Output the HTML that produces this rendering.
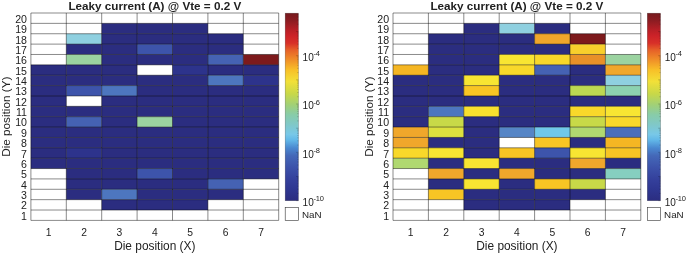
<!DOCTYPE html>
<html><head><meta charset="utf-8"><title>Leaky current</title>
<style>html,body{margin:0;padding:0;background:#fff}svg{display:block;will-change:transform}text{font-family:"Liberation Sans",Arial,sans-serif;fill:#222}</style>
</head><body>
<svg width="687" height="254" viewBox="0 0 687 254">
<defs><linearGradient id="cb" x1="0" y1="0" x2="0" y2="1"><stop offset="0" stop-color="#761a1e"/><stop offset="0.04" stop-color="#8c1c22"/><stop offset="0.09" stop-color="#b81f26"/><stop offset="0.12" stop-color="#cc2228"/><stop offset="0.16" stop-color="#d83028"/><stop offset="0.196" stop-color="#e66028"/><stop offset="0.25" stop-color="#f09028"/><stop offset="0.303" stop-color="#f8c028"/><stop offset="0.364" stop-color="#f2e038"/><stop offset="0.43" stop-color="#c8d848"/><stop offset="0.49" stop-color="#a0d078"/><stop offset="0.541" stop-color="#88cca8"/><stop offset="0.594" stop-color="#80c8c8"/><stop offset="0.646" stop-color="#78c8e8"/><stop offset="0.676" stop-color="#62b8e8"/><stop offset="0.719" stop-color="#4a88d0"/><stop offset="0.76" stop-color="#4468b8"/><stop offset="0.823" stop-color="#3c52aa"/><stop offset="0.886" stop-color="#34409c"/><stop offset="0.943" stop-color="#2e3690"/><stop offset="1" stop-color="#2b2d80"/></linearGradient></defs>
<rect width="687" height="254" fill="#fff"/>
<g transform="translate(0,0)">
<rect x="30.9" y="13.0" width="247.79999999999998" height="207.4" fill="#fff"/>
<rect x="101.70" y="23.37" width="35.40" height="10.37" fill="#2b2d80"/>
<rect x="137.10" y="23.37" width="35.40" height="10.37" fill="#2b2d80"/>
<rect x="172.50" y="23.37" width="35.40" height="10.37" fill="#2b2d80"/>
<rect x="66.30" y="33.74" width="35.40" height="10.37" fill="#8fd0e0"/>
<rect x="101.70" y="33.74" width="35.40" height="10.37" fill="#2b2d80"/>
<rect x="137.10" y="33.74" width="35.40" height="10.37" fill="#2b2d80"/>
<rect x="172.50" y="33.74" width="35.40" height="10.37" fill="#2b2d80"/>
<rect x="207.90" y="33.74" width="35.40" height="10.37" fill="#2b2d80"/>
<rect x="66.30" y="44.11" width="35.40" height="10.37" fill="#2b2d80"/>
<rect x="101.70" y="44.11" width="35.40" height="10.37" fill="#2b2d80"/>
<rect x="137.10" y="44.11" width="35.40" height="10.37" fill="#3d54ab"/>
<rect x="172.50" y="44.11" width="35.40" height="10.37" fill="#2b2d80"/>
<rect x="207.90" y="44.11" width="35.40" height="10.37" fill="#2b2d80"/>
<rect x="66.30" y="54.48" width="35.40" height="10.37" fill="#9bd3a0"/>
<rect x="101.70" y="54.48" width="35.40" height="10.37" fill="#2b2d80"/>
<rect x="137.10" y="54.48" width="35.40" height="10.37" fill="#2b2d80"/>
<rect x="172.50" y="54.48" width="35.40" height="10.37" fill="#2b2d80"/>
<rect x="207.90" y="54.48" width="35.40" height="10.37" fill="#4562b3"/>
<rect x="243.30" y="54.48" width="35.40" height="10.37" fill="#7d1a1c"/>
<rect x="30.90" y="64.85" width="35.40" height="10.37" fill="#2b2d80"/>
<rect x="66.30" y="64.85" width="35.40" height="10.37" fill="#2b2d80"/>
<rect x="101.70" y="64.85" width="35.40" height="10.37" fill="#2b2d80"/>
<rect x="172.50" y="64.85" width="35.40" height="10.37" fill="#2d338c"/>
<rect x="207.90" y="64.85" width="35.40" height="10.37" fill="#2b2d80"/>
<rect x="243.30" y="64.85" width="35.40" height="10.37" fill="#2b2d80"/>
<rect x="30.90" y="75.22" width="35.40" height="10.37" fill="#2b2d80"/>
<rect x="66.30" y="75.22" width="35.40" height="10.37" fill="#2b2d80"/>
<rect x="101.70" y="75.22" width="35.40" height="10.37" fill="#2b2d80"/>
<rect x="137.10" y="75.22" width="35.40" height="10.37" fill="#2b2d80"/>
<rect x="172.50" y="75.22" width="35.40" height="10.37" fill="#2b2d80"/>
<rect x="207.90" y="75.22" width="35.40" height="10.37" fill="#4d76bf"/>
<rect x="243.30" y="75.22" width="35.40" height="10.37" fill="#2d338c"/>
<rect x="30.90" y="85.59" width="35.40" height="10.37" fill="#2b2d80"/>
<rect x="66.30" y="85.59" width="35.40" height="10.37" fill="#3d54ab"/>
<rect x="101.70" y="85.59" width="35.40" height="10.37" fill="#4d76bf"/>
<rect x="137.10" y="85.59" width="35.40" height="10.37" fill="#2b2d80"/>
<rect x="172.50" y="85.59" width="35.40" height="10.37" fill="#2b2d80"/>
<rect x="207.90" y="85.59" width="35.40" height="10.37" fill="#2b2d80"/>
<rect x="243.30" y="85.59" width="35.40" height="10.37" fill="#2b2d80"/>
<rect x="30.90" y="95.96" width="35.40" height="10.37" fill="#2b2d80"/>
<rect x="101.70" y="95.96" width="35.40" height="10.37" fill="#2b2d80"/>
<rect x="137.10" y="95.96" width="35.40" height="10.37" fill="#2b2d80"/>
<rect x="172.50" y="95.96" width="35.40" height="10.37" fill="#2b2d80"/>
<rect x="207.90" y="95.96" width="35.40" height="10.37" fill="#2b2d80"/>
<rect x="243.30" y="95.96" width="35.40" height="10.37" fill="#2b2d80"/>
<rect x="30.90" y="106.33" width="35.40" height="10.37" fill="#2b2d80"/>
<rect x="66.30" y="106.33" width="35.40" height="10.37" fill="#2b2d80"/>
<rect x="101.70" y="106.33" width="35.40" height="10.37" fill="#2b2d80"/>
<rect x="137.10" y="106.33" width="35.40" height="10.37" fill="#2b2d80"/>
<rect x="172.50" y="106.33" width="35.40" height="10.37" fill="#2b2d80"/>
<rect x="207.90" y="106.33" width="35.40" height="10.37" fill="#2b2d80"/>
<rect x="243.30" y="106.33" width="35.40" height="10.37" fill="#2b2d80"/>
<rect x="30.90" y="116.70" width="35.40" height="10.37" fill="#2b2d80"/>
<rect x="66.30" y="116.70" width="35.40" height="10.37" fill="#4562b3"/>
<rect x="101.70" y="116.70" width="35.40" height="10.37" fill="#2b2d80"/>
<rect x="137.10" y="116.70" width="35.40" height="10.37" fill="#9bd3a0"/>
<rect x="172.50" y="116.70" width="35.40" height="10.37" fill="#2b2d80"/>
<rect x="207.90" y="116.70" width="35.40" height="10.37" fill="#2b2d80"/>
<rect x="243.30" y="116.70" width="35.40" height="10.37" fill="#2b2d80"/>
<rect x="30.90" y="127.07" width="35.40" height="10.37" fill="#2b2d80"/>
<rect x="66.30" y="127.07" width="35.40" height="10.37" fill="#2b2d80"/>
<rect x="101.70" y="127.07" width="35.40" height="10.37" fill="#2b2d80"/>
<rect x="137.10" y="127.07" width="35.40" height="10.37" fill="#2b2d80"/>
<rect x="172.50" y="127.07" width="35.40" height="10.37" fill="#2b2d80"/>
<rect x="207.90" y="127.07" width="35.40" height="10.37" fill="#2b2d80"/>
<rect x="243.30" y="127.07" width="35.40" height="10.37" fill="#2b2d80"/>
<rect x="30.90" y="137.44" width="35.40" height="10.37" fill="#2b2d80"/>
<rect x="66.30" y="137.44" width="35.40" height="10.37" fill="#2b2d80"/>
<rect x="101.70" y="137.44" width="35.40" height="10.37" fill="#2b2d80"/>
<rect x="137.10" y="137.44" width="35.40" height="10.37" fill="#2b2d80"/>
<rect x="172.50" y="137.44" width="35.40" height="10.37" fill="#2b2d80"/>
<rect x="207.90" y="137.44" width="35.40" height="10.37" fill="#2b2d80"/>
<rect x="243.30" y="137.44" width="35.40" height="10.37" fill="#2b2d80"/>
<rect x="30.90" y="147.81" width="35.40" height="10.37" fill="#2b2d80"/>
<rect x="66.30" y="147.81" width="35.40" height="10.37" fill="#2d338c"/>
<rect x="101.70" y="147.81" width="35.40" height="10.37" fill="#2b2d80"/>
<rect x="137.10" y="147.81" width="35.40" height="10.37" fill="#2b2d80"/>
<rect x="172.50" y="147.81" width="35.40" height="10.37" fill="#2b2d80"/>
<rect x="207.90" y="147.81" width="35.40" height="10.37" fill="#2b2d80"/>
<rect x="243.30" y="147.81" width="35.40" height="10.37" fill="#2b2d80"/>
<rect x="30.90" y="158.18" width="35.40" height="10.37" fill="#2b2d80"/>
<rect x="66.30" y="158.18" width="35.40" height="10.37" fill="#2b2d80"/>
<rect x="101.70" y="158.18" width="35.40" height="10.37" fill="#2b2d80"/>
<rect x="137.10" y="158.18" width="35.40" height="10.37" fill="#2b2d80"/>
<rect x="172.50" y="158.18" width="35.40" height="10.37" fill="#2b2d80"/>
<rect x="207.90" y="158.18" width="35.40" height="10.37" fill="#2b2d80"/>
<rect x="243.30" y="158.18" width="35.40" height="10.37" fill="#2b2d80"/>
<rect x="66.30" y="168.55" width="35.40" height="10.37" fill="#2b2d80"/>
<rect x="101.70" y="168.55" width="35.40" height="10.37" fill="#2b2d80"/>
<rect x="137.10" y="168.55" width="35.40" height="10.37" fill="#3d54ab"/>
<rect x="172.50" y="168.55" width="35.40" height="10.37" fill="#2b2d80"/>
<rect x="207.90" y="168.55" width="35.40" height="10.37" fill="#2b2d80"/>
<rect x="243.30" y="168.55" width="35.40" height="10.37" fill="#2b2d80"/>
<rect x="66.30" y="178.92" width="35.40" height="10.37" fill="#2b2d80"/>
<rect x="101.70" y="178.92" width="35.40" height="10.37" fill="#2b2d80"/>
<rect x="137.10" y="178.92" width="35.40" height="10.37" fill="#2b2d80"/>
<rect x="172.50" y="178.92" width="35.40" height="10.37" fill="#2b2d80"/>
<rect x="207.90" y="178.92" width="35.40" height="10.37" fill="#4562b3"/>
<rect x="66.30" y="189.29" width="35.40" height="10.37" fill="#2b2d80"/>
<rect x="101.70" y="189.29" width="35.40" height="10.37" fill="#4d76bf"/>
<rect x="137.10" y="189.29" width="35.40" height="10.37" fill="#2b2d80"/>
<rect x="172.50" y="189.29" width="35.40" height="10.37" fill="#2b2d80"/>
<rect x="207.90" y="189.29" width="35.40" height="10.37" fill="#2b2d80"/>
<rect x="101.70" y="199.66" width="35.40" height="10.37" fill="#2b2d80"/>
<rect x="137.10" y="199.66" width="35.40" height="10.37" fill="#2b2d80"/>
<rect x="172.50" y="199.66" width="35.40" height="10.37" fill="#2b2d80"/>
<path d="M30.90 13.0V220.4M66.30 13.0V220.4M101.70 13.0V220.4M137.10 13.0V220.4M172.50 13.0V220.4M207.90 13.0V220.4M243.30 13.0V220.4M278.70 13.0V220.4M30.9 13.00H278.7M30.9 23.37H278.7M30.9 33.74H278.7M30.9 44.11H278.7M30.9 54.48H278.7M30.9 64.85H278.7M30.9 75.22H278.7M30.9 85.59H278.7M30.9 95.96H278.7M30.9 106.33H278.7M30.9 116.70H278.7M30.9 127.07H278.7M30.9 137.44H278.7M30.9 147.81H278.7M30.9 158.18H278.7M30.9 168.55H278.7M30.9 178.92H278.7M30.9 189.29H278.7M30.9 199.66H278.7M30.9 210.03H278.7M30.9 220.40H278.7" stroke="#000" stroke-opacity="0.66" stroke-width="0.7" fill="none"/>
<text x="154.79999999999998" y="9.7" text-anchor="middle" font-weight="bold" font-size="11.7">Leaky current (A) @ Vte = 0.2 V</text>
<text x="27" y="22.79" text-anchor="end" font-size="10.6">20</text>
<text x="27" y="33.16" text-anchor="end" font-size="10.6">19</text>
<text x="27" y="43.53" text-anchor="end" font-size="10.6">18</text>
<text x="27" y="53.90" text-anchor="end" font-size="10.6">17</text>
<text x="27" y="64.27" text-anchor="end" font-size="10.6">16</text>
<text x="27" y="74.63" text-anchor="end" font-size="10.6">15</text>
<text x="27" y="85.00" text-anchor="end" font-size="10.6">14</text>
<text x="27" y="95.38" text-anchor="end" font-size="10.6">13</text>
<text x="27" y="105.75" text-anchor="end" font-size="10.6">12</text>
<text x="27" y="116.12" text-anchor="end" font-size="10.6">11</text>
<text x="27" y="126.48" text-anchor="end" font-size="10.6">10</text>
<text x="27" y="136.85" text-anchor="end" font-size="10.6">9</text>
<text x="27" y="147.22" text-anchor="end" font-size="10.6">8</text>
<text x="27" y="157.59" text-anchor="end" font-size="10.6">7</text>
<text x="27" y="167.97" text-anchor="end" font-size="10.6">6</text>
<text x="27" y="178.34" text-anchor="end" font-size="10.6">5</text>
<text x="27" y="188.71" text-anchor="end" font-size="10.6">4</text>
<text x="27" y="199.08" text-anchor="end" font-size="10.6">3</text>
<text x="27" y="209.45" text-anchor="end" font-size="10.6">2</text>
<text x="27" y="219.82" text-anchor="end" font-size="10.6">1</text>
<text x="48.60" y="236.1" text-anchor="middle" font-size="10.3">1</text>
<text x="84.00" y="236.1" text-anchor="middle" font-size="10.3">2</text>
<text x="119.40" y="236.1" text-anchor="middle" font-size="10.3">3</text>
<text x="154.80" y="236.1" text-anchor="middle" font-size="10.3">4</text>
<text x="190.20" y="236.1" text-anchor="middle" font-size="10.3">5</text>
<text x="225.60" y="236.1" text-anchor="middle" font-size="10.3">6</text>
<text x="261.00" y="236.1" text-anchor="middle" font-size="10.3">7</text>
<text x="154.79999999999998" y="250.2" text-anchor="middle" font-size="11.9">Die position (X)</text>
<text transform="translate(10.4,116.7) rotate(-90)" text-anchor="middle" font-size="11.75">Die position (Y)</text>
<rect x="285.2" y="13.2" width="13.2" height="187.5" fill="url(#cb)" stroke="#000" stroke-opacity="0.35" stroke-width="0.6"/>
<path d="M296.20 200.70H298.4M297.30 193.42H298.4M297.30 189.17H298.4M297.30 186.15H298.4M297.30 183.81H298.4M297.30 181.89H298.4M297.30 180.27H298.4M297.30 178.87H298.4M297.30 177.64H298.4M296.20 176.53H298.4M297.30 169.25H298.4M297.30 165.00H298.4M297.30 161.98H298.4M297.30 159.64H298.4M297.30 157.72H298.4M297.30 156.10H298.4M297.30 154.70H298.4M297.30 153.47H298.4M296.20 152.36H298.4M297.30 145.08H298.4M297.30 140.83H298.4M297.30 137.81H298.4M297.30 135.47H298.4M297.30 133.55H298.4M297.30 131.93H298.4M297.30 130.53H298.4M297.30 129.30H298.4M296.20 128.19H298.4M297.30 120.91H298.4M297.30 116.66H298.4M297.30 113.64H298.4M297.30 111.30H298.4M297.30 109.38H298.4M297.30 107.76H298.4M297.30 106.36H298.4M297.30 105.13H298.4M296.20 104.02H298.4M297.30 96.74H298.4M297.30 92.49H298.4M297.30 89.47H298.4M297.30 87.13H298.4M297.30 85.21H298.4M297.30 83.59H298.4M297.30 82.19H298.4M297.30 80.96H298.4M296.20 79.85H298.4M297.30 72.57H298.4M297.30 68.32H298.4M297.30 65.30H298.4M297.30 62.96H298.4M297.30 61.04H298.4M297.30 59.42H298.4M297.30 58.02H298.4M297.30 56.79H298.4M296.20 55.68H298.4M297.30 48.40H298.4M297.30 44.15H298.4M297.30 41.13H298.4M297.30 38.79H298.4M297.30 36.87H298.4M297.30 35.25H298.4M297.30 33.85H298.4M297.30 32.62H298.4M296.20 31.51H298.4M297.30 24.23H298.4M297.30 19.98H298.4M297.30 16.96H298.4M297.30 14.62H298.4" stroke="#000" stroke-opacity="0.45" stroke-width="0.5" fill="none"/>
<text x="302.6" y="61.1" font-size="10">10<tspan dy="-4.9" dx="-0.3" font-size="7.5" letter-spacing="-0.2">-4</tspan></text>
<text x="302.6" y="109.4" font-size="10">10<tspan dy="-4.9" dx="-0.3" font-size="7.5" letter-spacing="-0.2">-6</tspan></text>
<text x="302.6" y="157.8" font-size="10">10<tspan dy="-4.9" dx="-0.3" font-size="7.5" letter-spacing="-0.2">-8</tspan></text>
<text x="302.6" y="206.3" font-size="10">10<tspan dy="-4.9" dx="-0.3" font-size="7.5" letter-spacing="-0.2">-10</tspan></text>
<rect x="285.2" y="207.3" width="13.2" height="13.2" fill="#fff" stroke="#333" stroke-width="0.6"/>
<text x="302" y="217.7" font-size="9.8">NaN</text>
</g>
<g transform="translate(362.1,0)">
<rect x="30.9" y="13.0" width="247.79999999999998" height="207.4" fill="#fff"/>
<rect x="101.70" y="23.37" width="35.40" height="10.37" fill="#2b2d80"/>
<rect x="137.10" y="23.37" width="35.40" height="10.37" fill="#8fd0e0"/>
<rect x="172.50" y="23.37" width="35.40" height="10.37" fill="#2b2d80"/>
<rect x="66.30" y="33.74" width="35.40" height="10.37" fill="#2b2d80"/>
<rect x="101.70" y="33.74" width="35.40" height="10.37" fill="#2b2d80"/>
<rect x="137.10" y="33.74" width="35.40" height="10.37" fill="#2b2d80"/>
<rect x="172.50" y="33.74" width="35.40" height="10.37" fill="#f0a72b"/>
<rect x="207.90" y="33.74" width="35.40" height="10.37" fill="#7d1a1c"/>
<rect x="66.30" y="44.11" width="35.40" height="10.37" fill="#2b2d80"/>
<rect x="101.70" y="44.11" width="35.40" height="10.37" fill="#2b2d80"/>
<rect x="137.10" y="44.11" width="35.40" height="10.37" fill="#2b2d80"/>
<rect x="172.50" y="44.11" width="35.40" height="10.37" fill="#2b2d80"/>
<rect x="207.90" y="44.11" width="35.40" height="10.37" fill="#f8cf2c"/>
<rect x="66.30" y="54.48" width="35.40" height="10.37" fill="#2b2d80"/>
<rect x="101.70" y="54.48" width="35.40" height="10.37" fill="#2b2d80"/>
<rect x="137.10" y="54.48" width="35.40" height="10.37" fill="#f8e532"/>
<rect x="172.50" y="54.48" width="35.40" height="10.37" fill="#f8d82a"/>
<rect x="207.90" y="54.48" width="35.40" height="10.37" fill="#e89028"/>
<rect x="243.30" y="54.48" width="35.40" height="10.37" fill="#9bd3a0"/>
<rect x="30.90" y="64.85" width="35.40" height="10.37" fill="#f5b623"/>
<rect x="66.30" y="64.85" width="35.40" height="10.37" fill="#2b2d80"/>
<rect x="101.70" y="64.85" width="35.40" height="10.37" fill="#2b2d80"/>
<rect x="137.10" y="64.85" width="35.40" height="10.37" fill="#f8d82a"/>
<rect x="172.50" y="64.85" width="35.40" height="10.37" fill="#4562b3"/>
<rect x="207.90" y="64.85" width="35.40" height="10.37" fill="#2b2d80"/>
<rect x="243.30" y="64.85" width="35.40" height="10.37" fill="#f0a72b"/>
<rect x="30.90" y="75.22" width="35.40" height="10.37" fill="#2b2d80"/>
<rect x="66.30" y="75.22" width="35.40" height="10.37" fill="#2b2d80"/>
<rect x="101.70" y="75.22" width="35.40" height="10.37" fill="#f8e532"/>
<rect x="137.10" y="75.22" width="35.40" height="10.37" fill="#2b2d80"/>
<rect x="172.50" y="75.22" width="35.40" height="10.37" fill="#2b2d80"/>
<rect x="207.90" y="75.22" width="35.40" height="10.37" fill="#2b2d80"/>
<rect x="243.30" y="75.22" width="35.40" height="10.37" fill="#8fd0e0"/>
<rect x="30.90" y="85.59" width="35.40" height="10.37" fill="#2b2d80"/>
<rect x="66.30" y="85.59" width="35.40" height="10.37" fill="#2b2d80"/>
<rect x="101.70" y="85.59" width="35.40" height="10.37" fill="#f8c524"/>
<rect x="137.10" y="85.59" width="35.40" height="10.37" fill="#2b2d80"/>
<rect x="172.50" y="85.59" width="35.40" height="10.37" fill="#2b2d80"/>
<rect x="207.90" y="85.59" width="35.40" height="10.37" fill="#bcd852"/>
<rect x="243.30" y="85.59" width="35.40" height="10.37" fill="#8cd2b0"/>
<rect x="30.90" y="95.96" width="35.40" height="10.37" fill="#2b2d80"/>
<rect x="66.30" y="95.96" width="35.40" height="10.37" fill="#2b2d80"/>
<rect x="101.70" y="95.96" width="35.40" height="10.37" fill="#2b2d80"/>
<rect x="137.10" y="95.96" width="35.40" height="10.37" fill="#2b2d80"/>
<rect x="172.50" y="95.96" width="35.40" height="10.37" fill="#2b2d80"/>
<rect x="207.90" y="95.96" width="35.40" height="10.37" fill="#2b2d80"/>
<rect x="243.30" y="95.96" width="35.40" height="10.37" fill="#2b2d80"/>
<rect x="30.90" y="106.33" width="35.40" height="10.37" fill="#2b2d80"/>
<rect x="66.30" y="106.33" width="35.40" height="10.37" fill="#4d76bf"/>
<rect x="101.70" y="106.33" width="35.40" height="10.37" fill="#f8e02e"/>
<rect x="137.10" y="106.33" width="35.40" height="10.37" fill="#2b2d80"/>
<rect x="172.50" y="106.33" width="35.40" height="10.37" fill="#2b2d80"/>
<rect x="207.90" y="106.33" width="35.40" height="10.37" fill="#f8d82a"/>
<rect x="243.30" y="106.33" width="35.40" height="10.37" fill="#f8e532"/>
<rect x="30.90" y="116.70" width="35.40" height="10.37" fill="#2b2d80"/>
<rect x="66.30" y="116.70" width="35.40" height="10.37" fill="#c8d948"/>
<rect x="101.70" y="116.70" width="35.40" height="10.37" fill="#2b2d80"/>
<rect x="137.10" y="116.70" width="35.40" height="10.37" fill="#2b2d80"/>
<rect x="172.50" y="116.70" width="35.40" height="10.37" fill="#2b2d80"/>
<rect x="207.90" y="116.70" width="35.40" height="10.37" fill="#c8d948"/>
<rect x="243.30" y="116.70" width="35.40" height="10.37" fill="#f8d82a"/>
<rect x="30.90" y="127.07" width="35.40" height="10.37" fill="#f0a72b"/>
<rect x="66.30" y="127.07" width="35.40" height="10.37" fill="#dce03e"/>
<rect x="101.70" y="127.07" width="35.40" height="10.37" fill="#2b2d80"/>
<rect x="137.10" y="127.07" width="35.40" height="10.37" fill="#5585c6"/>
<rect x="172.50" y="127.07" width="35.40" height="10.37" fill="#70c8ea"/>
<rect x="207.90" y="127.07" width="35.40" height="10.37" fill="#b0d870"/>
<rect x="243.30" y="127.07" width="35.40" height="10.37" fill="#4a6ebb"/>
<rect x="30.90" y="137.44" width="35.40" height="10.37" fill="#f0a72b"/>
<rect x="66.30" y="137.44" width="35.40" height="10.37" fill="#2b2d80"/>
<rect x="101.70" y="137.44" width="35.40" height="10.37" fill="#2b2d80"/>
<rect x="172.50" y="137.44" width="35.40" height="10.37" fill="#f8c524"/>
<rect x="207.90" y="137.44" width="35.40" height="10.37" fill="#2b2d80"/>
<rect x="243.30" y="137.44" width="35.40" height="10.37" fill="#f5b623"/>
<rect x="30.90" y="147.81" width="35.40" height="10.37" fill="#f8d82a"/>
<rect x="66.30" y="147.81" width="35.40" height="10.37" fill="#f8e532"/>
<rect x="101.70" y="147.81" width="35.40" height="10.37" fill="#2b2d80"/>
<rect x="137.10" y="147.81" width="35.40" height="10.37" fill="#f8c524"/>
<rect x="172.50" y="147.81" width="35.40" height="10.37" fill="#3d54ab"/>
<rect x="207.90" y="147.81" width="35.40" height="10.37" fill="#f8e532"/>
<rect x="243.30" y="147.81" width="35.40" height="10.37" fill="#f8c524"/>
<rect x="30.90" y="158.18" width="35.40" height="10.37" fill="#b0d870"/>
<rect x="66.30" y="158.18" width="35.40" height="10.37" fill="#2b2d80"/>
<rect x="101.70" y="158.18" width="35.40" height="10.37" fill="#f8e532"/>
<rect x="137.10" y="158.18" width="35.40" height="10.37" fill="#2b2d80"/>
<rect x="172.50" y="158.18" width="35.40" height="10.37" fill="#2b2d80"/>
<rect x="207.90" y="158.18" width="35.40" height="10.37" fill="#f0a72b"/>
<rect x="243.30" y="158.18" width="35.40" height="10.37" fill="#2b2d80"/>
<rect x="66.30" y="168.55" width="35.40" height="10.37" fill="#f0a72b"/>
<rect x="101.70" y="168.55" width="35.40" height="10.37" fill="#2b2d80"/>
<rect x="137.10" y="168.55" width="35.40" height="10.37" fill="#f0a72b"/>
<rect x="172.50" y="168.55" width="35.40" height="10.37" fill="#2b2d80"/>
<rect x="207.90" y="168.55" width="35.40" height="10.37" fill="#2b2d80"/>
<rect x="243.30" y="168.55" width="35.40" height="10.37" fill="#86cfc0"/>
<rect x="66.30" y="178.92" width="35.40" height="10.37" fill="#2b2d80"/>
<rect x="101.70" y="178.92" width="35.40" height="10.37" fill="#f8e532"/>
<rect x="137.10" y="178.92" width="35.40" height="10.37" fill="#2b2d80"/>
<rect x="172.50" y="178.92" width="35.40" height="10.37" fill="#f8c524"/>
<rect x="207.90" y="178.92" width="35.40" height="10.37" fill="#c8d948"/>
<rect x="66.30" y="189.29" width="35.40" height="10.37" fill="#f8c524"/>
<rect x="101.70" y="189.29" width="35.40" height="10.37" fill="#2b2d80"/>
<rect x="137.10" y="189.29" width="35.40" height="10.37" fill="#2b2d80"/>
<rect x="172.50" y="189.29" width="35.40" height="10.37" fill="#2b2d80"/>
<rect x="207.90" y="189.29" width="35.40" height="10.37" fill="#2b2d80"/>
<rect x="101.70" y="199.66" width="35.40" height="10.37" fill="#2b2d80"/>
<rect x="137.10" y="199.66" width="35.40" height="10.37" fill="#2b2d80"/>
<rect x="172.50" y="199.66" width="35.40" height="10.37" fill="#2b2d80"/>
<path d="M30.90 13.0V220.4M66.30 13.0V220.4M101.70 13.0V220.4M137.10 13.0V220.4M172.50 13.0V220.4M207.90 13.0V220.4M243.30 13.0V220.4M278.70 13.0V220.4M30.9 13.00H278.7M30.9 23.37H278.7M30.9 33.74H278.7M30.9 44.11H278.7M30.9 54.48H278.7M30.9 64.85H278.7M30.9 75.22H278.7M30.9 85.59H278.7M30.9 95.96H278.7M30.9 106.33H278.7M30.9 116.70H278.7M30.9 127.07H278.7M30.9 137.44H278.7M30.9 147.81H278.7M30.9 158.18H278.7M30.9 168.55H278.7M30.9 178.92H278.7M30.9 189.29H278.7M30.9 199.66H278.7M30.9 210.03H278.7M30.9 220.40H278.7" stroke="#000" stroke-opacity="0.66" stroke-width="0.7" fill="none"/>
<text x="154.79999999999998" y="9.7" text-anchor="middle" font-weight="bold" font-size="11.7">Leaky current (A) @ Vte = 0.2 V</text>
<text x="27" y="22.79" text-anchor="end" font-size="10.6">20</text>
<text x="27" y="33.16" text-anchor="end" font-size="10.6">19</text>
<text x="27" y="43.53" text-anchor="end" font-size="10.6">18</text>
<text x="27" y="53.90" text-anchor="end" font-size="10.6">17</text>
<text x="27" y="64.27" text-anchor="end" font-size="10.6">16</text>
<text x="27" y="74.63" text-anchor="end" font-size="10.6">15</text>
<text x="27" y="85.00" text-anchor="end" font-size="10.6">14</text>
<text x="27" y="95.38" text-anchor="end" font-size="10.6">13</text>
<text x="27" y="105.75" text-anchor="end" font-size="10.6">12</text>
<text x="27" y="116.12" text-anchor="end" font-size="10.6">11</text>
<text x="27" y="126.48" text-anchor="end" font-size="10.6">10</text>
<text x="27" y="136.85" text-anchor="end" font-size="10.6">9</text>
<text x="27" y="147.22" text-anchor="end" font-size="10.6">8</text>
<text x="27" y="157.59" text-anchor="end" font-size="10.6">7</text>
<text x="27" y="167.97" text-anchor="end" font-size="10.6">6</text>
<text x="27" y="178.34" text-anchor="end" font-size="10.6">5</text>
<text x="27" y="188.71" text-anchor="end" font-size="10.6">4</text>
<text x="27" y="199.08" text-anchor="end" font-size="10.6">3</text>
<text x="27" y="209.45" text-anchor="end" font-size="10.6">2</text>
<text x="27" y="219.82" text-anchor="end" font-size="10.6">1</text>
<text x="48.60" y="236.1" text-anchor="middle" font-size="10.3">1</text>
<text x="84.00" y="236.1" text-anchor="middle" font-size="10.3">2</text>
<text x="119.40" y="236.1" text-anchor="middle" font-size="10.3">3</text>
<text x="154.80" y="236.1" text-anchor="middle" font-size="10.3">4</text>
<text x="190.20" y="236.1" text-anchor="middle" font-size="10.3">5</text>
<text x="225.60" y="236.1" text-anchor="middle" font-size="10.3">6</text>
<text x="261.00" y="236.1" text-anchor="middle" font-size="10.3">7</text>
<text x="154.79999999999998" y="250.2" text-anchor="middle" font-size="11.9">Die position (X)</text>
<text transform="translate(10.4,116.7) rotate(-90)" text-anchor="middle" font-size="11.75">Die position (Y)</text>
<rect x="285.2" y="13.2" width="13.2" height="187.5" fill="url(#cb)" stroke="#000" stroke-opacity="0.35" stroke-width="0.6"/>
<path d="M296.20 200.70H298.4M297.30 193.42H298.4M297.30 189.17H298.4M297.30 186.15H298.4M297.30 183.81H298.4M297.30 181.89H298.4M297.30 180.27H298.4M297.30 178.87H298.4M297.30 177.64H298.4M296.20 176.53H298.4M297.30 169.25H298.4M297.30 165.00H298.4M297.30 161.98H298.4M297.30 159.64H298.4M297.30 157.72H298.4M297.30 156.10H298.4M297.30 154.70H298.4M297.30 153.47H298.4M296.20 152.36H298.4M297.30 145.08H298.4M297.30 140.83H298.4M297.30 137.81H298.4M297.30 135.47H298.4M297.30 133.55H298.4M297.30 131.93H298.4M297.30 130.53H298.4M297.30 129.30H298.4M296.20 128.19H298.4M297.30 120.91H298.4M297.30 116.66H298.4M297.30 113.64H298.4M297.30 111.30H298.4M297.30 109.38H298.4M297.30 107.76H298.4M297.30 106.36H298.4M297.30 105.13H298.4M296.20 104.02H298.4M297.30 96.74H298.4M297.30 92.49H298.4M297.30 89.47H298.4M297.30 87.13H298.4M297.30 85.21H298.4M297.30 83.59H298.4M297.30 82.19H298.4M297.30 80.96H298.4M296.20 79.85H298.4M297.30 72.57H298.4M297.30 68.32H298.4M297.30 65.30H298.4M297.30 62.96H298.4M297.30 61.04H298.4M297.30 59.42H298.4M297.30 58.02H298.4M297.30 56.79H298.4M296.20 55.68H298.4M297.30 48.40H298.4M297.30 44.15H298.4M297.30 41.13H298.4M297.30 38.79H298.4M297.30 36.87H298.4M297.30 35.25H298.4M297.30 33.85H298.4M297.30 32.62H298.4M296.20 31.51H298.4M297.30 24.23H298.4M297.30 19.98H298.4M297.30 16.96H298.4M297.30 14.62H298.4" stroke="#000" stroke-opacity="0.45" stroke-width="0.5" fill="none"/>
<text x="302.6" y="61.1" font-size="10">10<tspan dy="-4.9" dx="-0.3" font-size="7.5" letter-spacing="-0.2">-4</tspan></text>
<text x="302.6" y="109.4" font-size="10">10<tspan dy="-4.9" dx="-0.3" font-size="7.5" letter-spacing="-0.2">-6</tspan></text>
<text x="302.6" y="157.8" font-size="10">10<tspan dy="-4.9" dx="-0.3" font-size="7.5" letter-spacing="-0.2">-8</tspan></text>
<text x="302.6" y="206.3" font-size="10">10<tspan dy="-4.9" dx="-0.3" font-size="7.5" letter-spacing="-0.2">-10</tspan></text>
<rect x="285.2" y="207.3" width="13.2" height="13.2" fill="#fff" stroke="#333" stroke-width="0.6"/>
<text x="302" y="217.7" font-size="9.8">NaN</text>
</g>
</svg>
</body></html>
